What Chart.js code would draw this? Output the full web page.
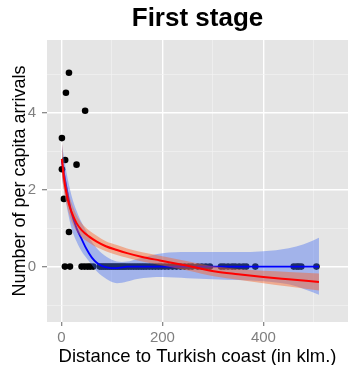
<!DOCTYPE html>
<html>
<head>
<meta charset="utf-8">
<title>First stage</title>
<script src="https://cdn.jsdelivr.net/npm/chart.js@4/dist/chart.umd.min.js"></script>
<style>
  html, body { margin: 0; padding: 0; background: #fff; }
  canvas { display: block; }
</style>
</head>
<body>
<canvas id="chart" width="352" height="365"></canvas>
<script>
// observed municipalities: distance (klm.) and arrivals per capita
const distance = [15, 9, 47, 1, 7.5, 30, 1, 5, 15,
    7, 17, 40, 46, 52, 57, 63, 76, 80, 84,
    88, 92, 96, 100, 104, 108, 112, 116, 120, 124,
    128, 133, 138, 143, 148, 153, 158, 163, 168, 174,
    180, 186, 192, 198, 205, 212, 220, 228, 236, 244,
    252, 259, 270, 278, 286, 294, 316, 322, 330, 338,
    344, 352, 360, 366, 384, 460, 466, 470, 475, 505, 509];
const arrivals = [5.04, 4.52, 4.05, 3.34, 2.77, 2.65, 2.53, 1.76, 0.9,
    0, 0, 0, 0, 0, 0, 0, 0, 0, 0,
    0, 0, 0, 0, 0, 0, 0, 0, 0, 0,
    0, 0, 0, 0, 0, 0, 0, 0, 0, 0,
    0, 0, 0, 0, 0, 0, 0, 0, 0, 0,
    0, 0, 0, 0, 0, 0, 0, 0, 0, 0,
    0, 0, 0, 0, 0, 0, 0, 0, 0, 0];

// blue smoother (loess) with its band
const loessX     = [1, 5, 10, 20, 30, 40, 50, 60, 70, 80, 90, 100, 110, 120, 130, 150, 200, 250, 300, 350, 400, 450, 480, 510];
const loessFit   = [2.75, 2.42, 2.05, 1.4, 1.0, 0.72, 0.45, 0.24, 0.1, 0.02, -0.02, -0.04, -0.04, -0.02, 0, 0, 0, 0, 0, 0, 0, 0, 0, 0];
const loessUpper = [3.2, 2.85, 2.45, 1.85, 1.45, 1.15, 0.9, 0.65, 0.48, 0.35, 0.25, 0.18, 0.13, 0.12, 0.13, 0.2, 0.35, 0.38, 0.38, 0.38, 0.4, 0.48, 0.58, 0.75];
const loessLower = [2.3, 2.0, 1.6, 1.0, 0.65, 0.4, 0.22, 0.05, -0.12, -0.24, -0.33, -0.4, -0.43, -0.42, -0.39, -0.32, -0.27, -0.3, -0.33, -0.35, -0.38, -0.46, -0.58, -0.73];

// red smoother with its band
const redX     = [1, 5, 10, 15, 20, 30, 40, 55, 70, 88, 110, 130, 160, 195, 250, 305, 350, 400, 450, 510];
const redFit   = [2.8, 2.3, 1.9, 1.62, 1.42, 1.13, 0.95, 0.78, 0.65, 0.53, 0.43, 0.35, 0.25, 0.16, 0.02, -0.13, -0.2, -0.27, -0.33, -0.4];
const redUpper = [3.25, 2.62, 2.16, 1.86, 1.66, 1.34, 1.13, 0.94, 0.8, 0.66, 0.56, 0.47, 0.37, 0.28, 0.14, 0, -0.06, -0.11, -0.14, -0.18];
const redLower = [2.35, 1.98, 1.64, 1.38, 1.18, 0.92, 0.77, 0.62, 0.5, 0.4, 0.3, 0.23, 0.13, 0.04, -0.1, -0.26, -0.34, -0.43, -0.52, -0.62];

// axes
const xTickLabels = [0, 200, 400];
const xGridValues = [0, 100, 200, 300, 400, 500];
const yTickLabels = [0, 2, 4];
const yGridValues = [-1, 0, 1, 2, 3, 4, 5];
const xLimits = [-28.5, 567.5];
const yLimits = [-1.44, 5.89];

function pairs(xs, ys) {
    return xs.map((x, i) => ({ x: x, y: ys[i] }));
}

Chart.defaults.font.family = "'Liberation Sans', Arial, Helvetica, sans-serif";

const panelBackground = {
    id: 'panelBackground',
    beforeDraw(chart) {
        const { ctx, chartArea: a } = chart;
        ctx.save();
        ctx.fillStyle = '#E5E5E5';
        ctx.fillRect(a.left, a.top, a.right - a.left, a.bottom - a.top);
        ctx.restore();
    }
};

function gridStyle(labels) {
    return {
        color: c => labels.includes(c.tick.value) ? '#FFFFFF' : '#F2F2F2',
        lineWidth: c => labels.includes(c.tick.value) ? 1.4 : 0.7,
        tickColor: c => labels.includes(c.tick.value) ? '#7F7F7F' : 'rgba(0,0,0,0)',
        tickWidth: 1.2
    };
}

const bandLine = { showLine: true, pointRadius: 0, borderWidth: 0, cubicInterpolationMode: 'monotone' };

new Chart(document.getElementById('chart'), {
    type: 'scatter',
    data: {
        datasets: [
            {
                label: 'Fit',
                data: pairs(redX, redFit),
                showLine: true, pointRadius: 0, borderColor: '#FF0000', borderWidth: 2,
                cubicInterpolationMode: 'monotone', order: 1
            },
            Object.assign({ data: pairs(redX, redUpper), fill: '+1', backgroundColor: 'rgba(250,100,40,0.45)', order: 2 }, bandLine),
            Object.assign({ data: pairs(redX, redLower), fill: false, order: 2 }, bandLine),
            {
                label: 'Loess',
                data: pairs(loessX, loessFit),
                showLine: true, pointRadius: 0, borderColor: '#0000FF', borderWidth: 1.8,
                cubicInterpolationMode: 'monotone', order: 3
            },
            Object.assign({ data: pairs(loessX, loessUpper), fill: '+1', backgroundColor: 'rgba(70,110,240,0.42)', order: 4 }, bandLine),
            Object.assign({ data: pairs(loessX, loessLower), fill: false, order: 4 }, bandLine),
            {
                label: 'Municipalities',
                data: pairs(distance, arrivals),
                pointRadius: 3.3, pointBackgroundColor: '#000000', pointBorderColor: '#000000',
                pointBorderWidth: 0, order: 5
            }
        ]
    },
    options: {
        responsive: false,
        animation: false,
        devicePixelRatio: 1,
        layout: { padding: { left: 0, right: 2, top: 0, bottom: 0 } },
        plugins: {
            legend: { display: false },
            tooltip: { enabled: false },
            title: {
                display: true,
                text: 'First stage',
                fullSize: false,
                color: '#000000',
                font: { size: 26, weight: 'bold' },
                padding: { top: 3, bottom: 5.8 }
            }
        },
        scales: {
            x: {
                type: 'linear',
                min: xLimits[0],
                max: xLimits[1],
                afterBuildTicks: s => { s.ticks = xGridValues.map(v => ({ value: v })); },
                afterFit: s => { s.height = 43; },
                border: { display: false },
                grid: Object.assign({ tickLength: 4 }, gridStyle(xTickLabels)),
                ticks: {
                    autoSkip: false, maxRotation: 0, padding: 3,
                    color: '#7F7F7F', font: { size: 15 },
                    callback: v => xTickLabels.includes(v) ? String(v) : ''
                },
                title: {
                    display: true,
                    text: 'Distance to Turkish coast (in klm.)',
                    color: '#000000',
                    font: { size: 18.5, lineHeight: 0.9 },
                    padding: { top: 0, bottom: 0 }
                }
            },
            y: {
                type: 'linear',
                min: yLimits[0],
                max: yLimits[1],
                afterBuildTicks: s => { s.ticks = yGridValues.map(v => ({ value: v })); },
                afterFit: s => { s.width = 47; },
                border: { display: false },
                grid: Object.assign({ tickLength: 5 }, gridStyle(yTickLabels)),
                ticks: {
                    autoSkip: false, padding: 6,
                    color: '#7F7F7F', font: { size: 15 },
                    callback: v => yTickLabels.includes(v) ? String(v) : ''
                },
                title: {
                    display: true,
                    text: 'Number of per capita arrivals',
                    color: '#000000',
                    font: { size: 18 },
                    padding: { top: 9, bottom: 0 }
                }
            }
        }
    },
    plugins: [panelBackground]
});
</script>
</body>
</html>
